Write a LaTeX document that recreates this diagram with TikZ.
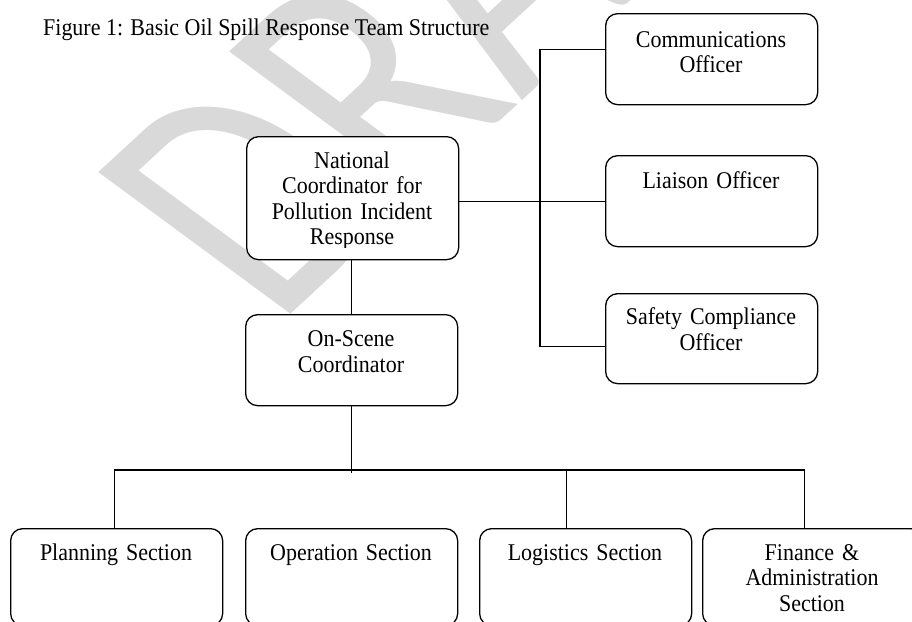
\documentclass[tikz,border=0pt]{standalone}
\usepackage{fontspec}
\setmainfont{Liberation Serif}[FakeStretch=0.915]
\newfontfamily\wmfont{Carlito}
\begin{document}
\begin{tikzpicture}[x=1pt,y=-1pt,
  box/.style={draw=black, line width=1.3pt, rounded corners=12pt, fill=white,
    minimum width=212pt, inner sep=0pt, anchor=north west},
  lbl/.style={anchor=base, text width=214pt, align=center, inner sep=0pt,
    font=\fontsize{24}{25.5}\selectfont},
  conn/.style={line width=1.3pt}]
\useasboundingbox (0,0) rectangle (912,621);
\clip (0,0) rectangle (912,621);
\fill[white] (0,0) rectangle (912,621);

% watermark
\begin{scope}[cm={2.114,1.951,-2.995,2.208,(276,327.8)}, transform shape]
\node[anchor=base west, inner sep=0pt, text=black!15,
  font=\wmfont\fontsize{100}{100}\selectfont] (wm) at (0,0) {DRAFT};
\end{scope}

% title
\node[anchor=base west, inner sep=0pt, font=\fontsize{24}{25.5}\selectfont] (title) at (43,35)
  {Figure 1: Basic Oil Spill Response Team Structure};

% boxes
\node[box, minimum height=91pt] (com) at (605,13) {};
\node[box, minimum height=91pt] (lia) at (605,155) {};
\node[box, minimum height=90pt] (saf) at (605,293) {};
\node[box, minimum height=123pt] (nat) at (246,136) {};
\node[box, minimum height=91pt] (osc) at (245,314) {};
\node[box, minimum height=97pt] (pla) at (10,528) {};
\node[box, minimum height=97pt] (ope) at (245,528) {};
\node[box, minimum height=97pt] (log) at (479,528) {};
\node[box, minimum height=97pt, minimum width=220pt] (fin) at (702,528) {};

% connectors
\coordinate (trunk) at (540,0);
\coordinate (bus) at (0,470);
\draw[conn] (osc.north) -- (osc.north |- nat.south);
\draw[conn] (lia.west) -- (lia.west -| nat.east);
\draw[conn] ([yshift=9.5pt]com.west) -- ([yshift=9.5pt]com.west -| trunk)
  -- ([yshift=-7.5pt]saf.west -| trunk) -- ([yshift=-7.5pt]saf.west);
\draw[conn] (osc.south) -- ([yshift=-3pt]osc.south |- bus);
\draw[conn] ([xshift=-2pt]pla.north) -- ([xshift=-2pt]pla.north |- bus)
  -- ([xshift=-8pt]fin.north |- bus) -- ([xshift=-8pt]fin.north);
\draw[conn] ([xshift=-19pt]log.north) -- ([xshift=-19pt]log.north |- bus);

% texts
\node[lbl] (tcom) at (711,47) {Communications\\Officer};
\node[lbl] (tlia) at (711,188) {Liaison Officer};
\node[lbl] (tsaf) at (711,324.5) {Safety Compliance\\Officer};
\begin{scope}
\clip (246,136) rectangle (458,247);
\node[lbl] (tnat) at (352,168) {National\\Coordinator for\\Pollution Incident\\Response};
\end{scope}
\node[lbl] (tosc) at (351,346.5) {On-Scene\\Coordinator};
\node[lbl] (tpla) at (116,560) {Planning Section};
\node[lbl] (tope) at (351,560) {Operation Section};
\node[lbl] (tlog) at (585,560) {Logistics Section};
\node[lbl] (tfin) at (812,560) {Finance \&\\Administration\\Section};
\end{tikzpicture}
\end{document}
